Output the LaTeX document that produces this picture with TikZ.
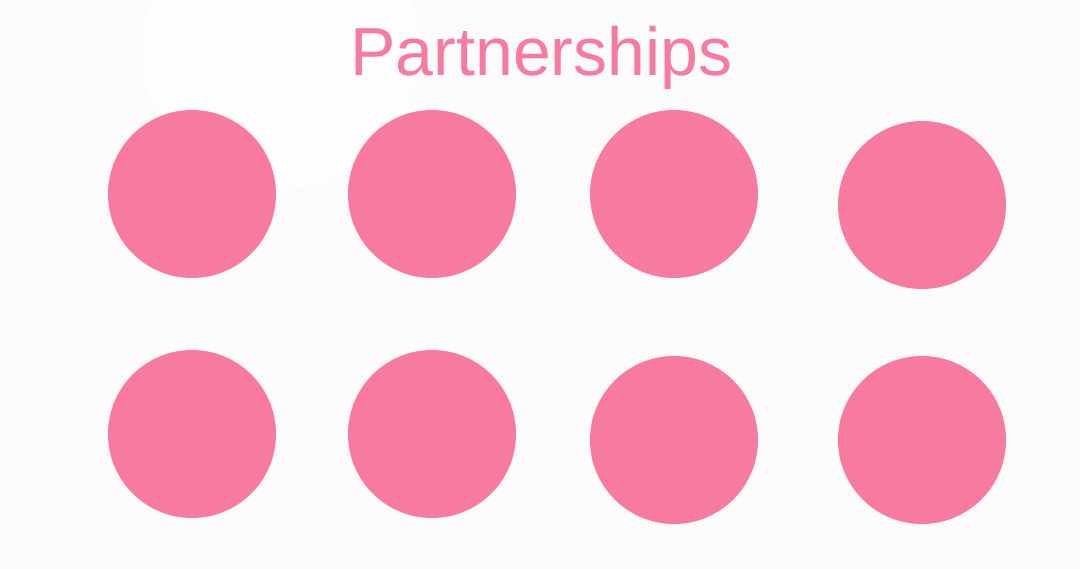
\documentclass[tikz,border=0pt]{standalone}
\usepackage{fontspec}
\setmainfont{Liberation Sans}
\definecolor{partnerpink}{HTML}{F77B9E}
\definecolor{pagegray}{HTML}{FBFBFB}
\definecolor{glowwhite}{HTML}{FDFDFD}
\begin{document}
\begin{tikzpicture}[x=1pt, y=-1pt]
			\fill[pagegray] (0,0) rectangle (1080,569);
			\useasboundingbox (0,0) rectangle (1080,569);
			\fill[glowwhite] (281,51) circle (139);
			\node[anchor=base, text=partnerpink, font=\fontsize{68}{72}\selectfont, inner sep=0pt] (title) at (541.5,76) {Partnerships};
			\fill[partnerpink] (192,194) circle (84);
			\fill[partnerpink] (432,194) circle (84);
			\fill[partnerpink] (674,194) circle (84);
			\fill[partnerpink] (922,205) circle (84);
			\fill[partnerpink] (192,434) circle (84);
			\fill[partnerpink] (432,434) circle (84);
			\fill[partnerpink] (674,440) circle (84);
			\fill[partnerpink] (922,440) circle (84);
		\end{tikzpicture}
\end{document}
